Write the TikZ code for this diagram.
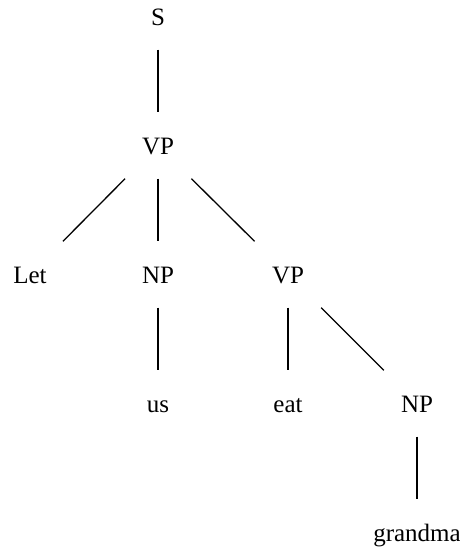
\documentclass[tikz,border=0pt]{standalone}
\usepackage{fontspec}
\setmainfont{Liberation Serif}
\begin{document}
\begin{tikzpicture}[x=1pt,y=-1pt,
  tn/.style={font=\fontsize{25}{30}\selectfont, text height=17pt, text depth=0pt,
    inner ysep=24.5pt, inner xsep=2pt, minimum width=72pt},
  br/.style={line width=1.3pt}]
\useasboundingbox (0,0) rectangle (460,550);
\node[tn] (s) at (158,16.5) {S};
\node[tn] (vp) at (158,145.5) {VP};
\node[tn] (let) at (30,274.5) {Let};
\node[tn] (np) at (158,274.5) {NP};
\node[tn] (vp2) at (288,274.5) {VP};
\node[tn] (us) at (158,403.5) {us};
\node[tn] (eat) at (288,403.5) {eat};
\node[tn] (np2) at (417,403.5) {NP};
\node[tn] (gm) at (417,532.5) {grandma};
\draw[br] (s) -- (vp);
\draw[br] (vp) -- (let);
\draw[br] (vp) -- (np);
\draw[br] (vp) -- (vp2);
\draw[br] (np) -- (us);
\draw[br] (vp2) -- (eat);
\draw[br] (vp2) -- (np2);
\draw[br] (np2) -- (gm);
\end{tikzpicture}
\end{document}
